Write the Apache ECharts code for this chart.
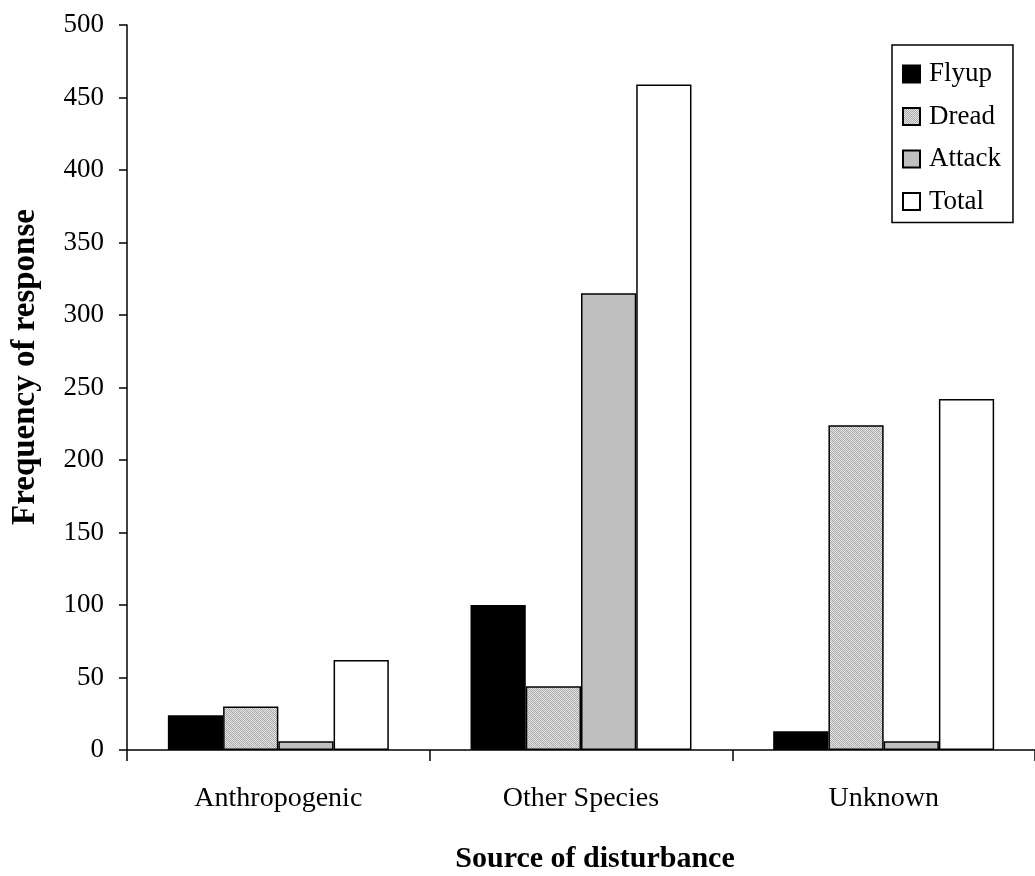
<!DOCTYPE html>
<html>
<head>
<meta charset="utf-8">
<title>Frequency of response by source of disturbance</title>
<script src="https://cdn.jsdelivr.net/npm/echarts@6/dist/echarts.min.js"></script>
<style>
  html, body { margin: 0; padding: 0; background: #ffffff; }
  #chart { width: 1035px; height: 876px; }
</style>
</head>
<body>
<div id="chart"></div>
<script>
// Categories along the x axis
const categories = ['Anthropogenic', 'Other Species', 'Unknown'];

// Response counts per source of disturbance
const flyup  = [24, 100, 13];
const dread  = [30, 44, 224];
const attack = [6, 315, 6];
const total  = [62, 459, 242];

// Y axis tick range
const yMin = 0;
const yMax = 500;
const yStep = 50;

const serif = "'Liberation Serif', 'Times New Roman', serif";

// Fine dotted grey fill with a faint diagonal hatch
function makeHatch() {
  const size = 8;
  const c = document.createElement('canvas');
  c.width = size; c.height = size;
  const ctx = c.getContext('2d');
  const img = ctx.createImageData(size, size);
  for (let y = 0; y < size; y++) {
    for (let x = 0; x < size; x++) {
      let v = ((x + y) % 2 === 0) ? 175 : 228;
      const d = (x + size - y) % size;
      if (d === 0) v = ((x + y) % 2 === 0) ? 160 : 200;
      const i = (y * size + x) * 4;
      img.data[i] = v; img.data[i + 1] = v; img.data[i + 2] = v; img.data[i + 3] = 255;
    }
  }
  ctx.putImageData(img, 0, 0);
  return c;
}

const hatch = makeHatch();

function barSeries(name, data, fill) {
  return {
    name: name,
    type: 'bar',
    data: data,
    barGap: '0%',
    barCategoryGap: '27%',
    itemStyle: { color: fill, borderColor: '#000000', borderWidth: 1.5 },
    emphasis: { disabled: true },
    animation: false
  };
}

const chart = echarts.init(document.getElementById('chart'), null, { renderer: 'canvas' });

chart.setOption({
  backgroundColor: '#ffffff',
  animation: false,
  grid: { left: 127, right: -7, top: 25, bottom: 126, containLabel: false },
  legend: {
    orient: 'vertical',
    left: 892,
    top: 45,
    width: 121,
    padding: [14, 12, 6, 10],
    itemGap: 12.5,
    itemWidth: 17,
    itemHeight: 17,
    borderColor: '#000000',
    borderWidth: 1.5,
    icon: 'rect',
    backgroundColor: '#ffffff',
    textStyle: { fontFamily: serif, fontSize: 27, color: '#000000', lineHeight: 30, padding: [0, 0, 0, 4] },
    data: ['Flyup', 'Dread', 'Attack', 'Total']
  },
  xAxis: {
    type: 'category',
    data: categories,
    axisLine: { lineStyle: { color: '#000000', width: 1.5 } },
    axisTick: { show: true, length: 11, lineStyle: { color: '#000000', width: 1.5 } },
    axisLabel: { fontFamily: serif, fontSize: 28, color: '#000000', margin: 35 },
    splitLine: { show: false }
  },
  yAxis: {
    type: 'value',
    min: yMin,
    max: yMax,
    interval: yStep,
    axisLine: { show: true, lineStyle: { color: '#000000', width: 1.5 } },
    axisTick: { show: true, length: 8, lineStyle: { color: '#000000', width: 1.5 } },
    axisLabel: { fontFamily: serif, fontSize: 27, color: '#000000', margin: 23 },
    splitLine: { show: false }
  },
  graphic: [
    {
      type: 'text',
      x: 25,
      y: 367,
      rotation: Math.PI / 2,
      style: {
        text: 'Frequency of response',
        font: 'bold 33px ' + serif,
        fill: '#000000',
        textAlign: 'center',
        textVerticalAlign: 'middle'
      }
    },
    {
      type: 'text',
      x: 595,
      y: 859,
      style: {
        text: 'Source of disturbance',
        font: 'bold 30px ' + serif,
        fill: '#000000',
        textAlign: 'center',
        textVerticalAlign: 'middle'
      }
    }
  ],
  series: [
    barSeries('Flyup', flyup, '#000000'),
    barSeries('Dread', dread, { image: hatch, repeat: 'repeat' }),
    barSeries('Attack', attack, '#c0c0c0'),
    barSeries('Total', total, '#ffffff')
  ]
});
</script>
</body>
</html>
